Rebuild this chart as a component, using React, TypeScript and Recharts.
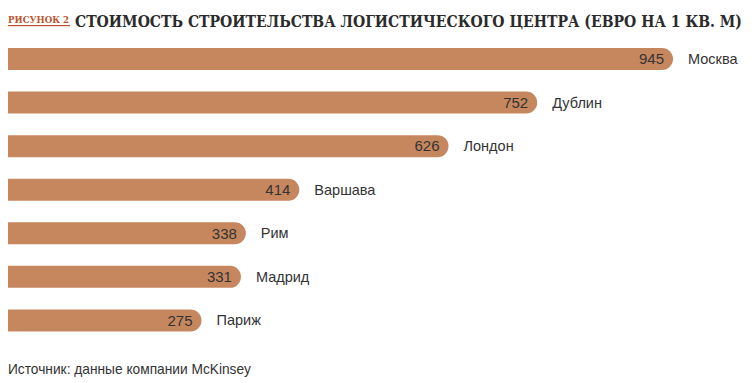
import { BarChart, Bar, XAxis, YAxis, LabelList } from "recharts";

const cities = ["Москва", "Дублин", "Лондон", "Варшава", "Рим", "Мадрид", "Париж"];
const costs = [945, 752, 626, 414, 338, 331, 275];

const BAR_COLOR = "#c6875f";
const TEXT = "#333333";
const FONT = "'Liberation Sans', Arial, sans-serif";
const SERIF = "'DejaVu Serif', serif";

const data = cities.map((city, i) => ({ city, cost: costs[i] }));

const CityLabel = (props: any) => {
  const { x, y, width, height, value } = props;
  return (
    <text x={x + width + 15} y={y + height / 2 + 5} fontSize={14.5} fill={TEXT} fontFamily={FONT}>
      {value}
    </text>
  );
};

export default function App() {
  return (
    <div style={{ position: "fixed", left: 0, top: 0, width: 752, height: 383, background: "#fff" }}>
      <svg width={752} height={383} style={{ position: "absolute", left: 0, top: 0 }}>
        <text x={8} y={23} fontSize={9} fontWeight="bold" fill="#b8552f" fontFamily={SERIF}
          textLength={61} lengthAdjust="spacingAndGlyphs">
          РИСУНОК 2
        </text>
        <rect x={8} y={25} width={62} height={1.2} fill="#b8552f" />
        <g transform="translate(0,27.5) scale(1,1.15) translate(0,-27.5)">
          <text x={75} y={27.5} fontSize={14} fontWeight="bold" fill="#2b2b2b" fontFamily={SERIF}
            textLength={667} lengthAdjust="spacingAndGlyphs">
            СТОИМОСТЬ СТРОИТЕЛЬСТВА ЛОГИСТИЧЕСКОГО ЦЕНТРА (ЕВРО НА 1 КВ. М)
          </text>
        </g>
        <text x={8} y={374} fontSize={14.5} fill={TEXT} fontFamily={FONT} textLength={243} lengthAdjust="spacingAndGlyphs">
          Источник: данные компании McKinsey
        </text>
      </svg>
      <div style={{ position: "absolute", left: 0, top: 0 }}>
        <BarChart
          width={752}
          height={383}
          data={data}
          layout="vertical"
          margin={{ top: 37, right: 79, bottom: 41, left: 8 }}
        >
          <XAxis type="number" domain={[0, 945]} hide />
          <YAxis type="category" dataKey="city" hide />
          <Bar dataKey="cost" fill={BAR_COLOR} barSize={22} radius={[0, 11, 11, 0]} isAnimationActive={false}>
            <LabelList dataKey="cost" position="insideRight" offset={9} fill={TEXT} fontSize={15} fontFamily={FONT} />
            <LabelList dataKey="city" content={CityLabel} />
          </Bar>
        </BarChart>
      </div>
    </div>
  );
}
